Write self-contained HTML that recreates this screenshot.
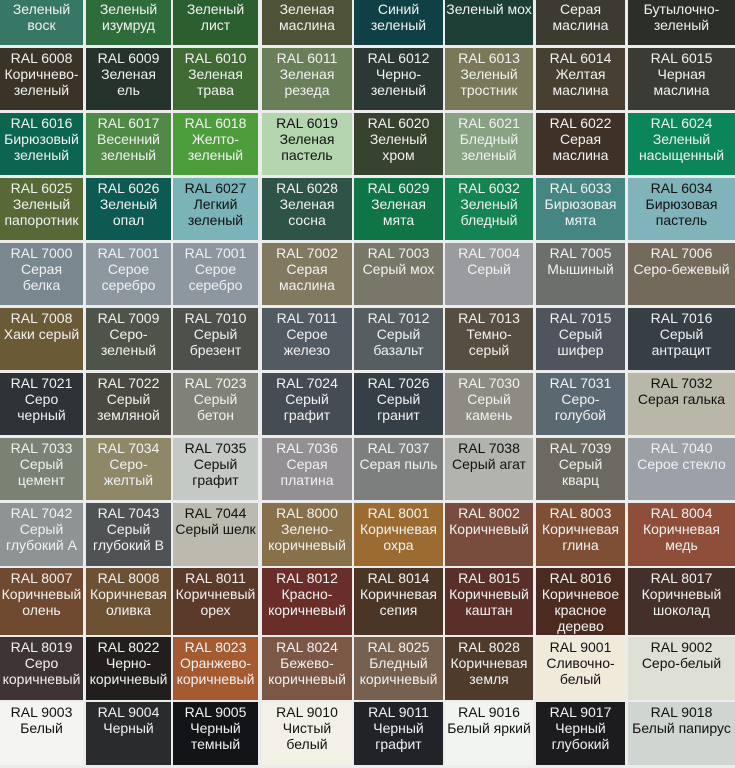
<!DOCTYPE html>
<html><head><meta charset="utf-8">
<style>
html,body{margin:0;padding:0;background:#ececec;width:735px;height:768px;overflow:hidden;position:relative}
.c{position:absolute;box-sizing:border-box;text-align:center;font-family:"Liberation Sans","DejaVu Sans",sans-serif;font-size:14px;line-height:16px;padding-top:2px;color:#f2f2f2;white-space:nowrap;overflow:hidden}
.d{color:#111}
</style></head><body>
<div id="grid"></div>
<script>
var colX=[0,86,173,262,354,445,536,628];
var colR=[83,171,258,352,443,533,625,735];
var rowY=[-17,48,113,178,243,308,373,438,503,568,637,702];
var rowH=[62,62,62,62,62,62,62,62,63,67,63,63];
var codes=[
["RAL 6005","RAL 6001","RAL 6002","RAL 6003","RAL 6004","RAL 6005","RAL 6006","RAL 6007"],
["RAL 6008","RAL 6009","RAL 6010","RAL 6011","RAL 6012","RAL 6013","RAL 6014","RAL 6015"],
["RAL 6016","RAL 6017","RAL 6018","RAL 6019","RAL 6020","RAL 6021","RAL 6022","RAL 6024"],
["RAL 6025","RAL 6026","RAL 6027","RAL 6028","RAL 6029","RAL 6032","RAL 6033","RAL 6034"],
["RAL 7000","RAL 7001","RAL 7001","RAL 7002","RAL 7003","RAL 7004","RAL 7005","RAL 7006"],
["RAL 7008","RAL 7009","RAL 7010","RAL 7011","RAL 7012","RAL 7013","RAL 7015","RAL 7016"],
["RAL 7021","RAL 7022","RAL 7023","RAL 7024","RAL 7026","RAL 7030","RAL 7031","RAL 7032"],
["RAL 7033","RAL 7034","RAL 7035","RAL 7036","RAL 7037","RAL 7038","RAL 7039","RAL 7040"],
["RAL 7042","RAL 7043","RAL 7044","RAL 8000","RAL 8001","RAL 8002","RAL 8003","RAL 8004"],
["RAL 8007","RAL 8008","RAL 8011","RAL 8012","RAL 8014","RAL 8015","RAL 8016","RAL 8017"],
["RAL 8019","RAL 8022","RAL 8023","RAL 8024","RAL 8025","RAL 8028","RAL 9001","RAL 9002"],
["RAL 9003","RAL 9004","RAL 9005","RAL 9010","RAL 9011","RAL 9016","RAL 9017","RAL 9018"]];
var names=[
["Зеленый<br>воск","Зеленый<br>изумруд","Зеленый<br>лист","Зеленая<br>маслина","Синий<br>зеленый","Зеленый мох","Серая<br>маслина","Бутылочно-<br>зеленый"],
["Коричнево-<br>зеленый","Зеленая<br>ель","Зеленая<br>трава","Зеленая<br>резеда","Черно-<br>зеленый","Зеленый<br>тростник","Желтая<br>маслина","Черная<br>маслина"],
["Бирюзовый<br>зеленый","Весенний<br>зеленый","Желто-<br>зеленый","Зеленая<br>пастель","Зеленый<br>хром","Бледный<br>зеленый","Серая<br>маслина","Зеленый<br>насыщенный"],
["Зеленый<br>папоротник","Зеленый<br>опал","Легкий<br>зеленый","Зеленая<br>сосна","Зеленая<br>мята","Зеленый<br>бледный","Бирюзовая<br>мята","Бирюзовая<br>пастель"],
["Серая<br>белка","Серое<br>серебро","Серое<br>серебро","Серая<br>маслина","Серый мох","Серый","Мышиный","Серо-бежевый"],
["Хаки серый","Серо-<br>зеленый","Серый<br>брезент","Серое<br>железо","Серый<br>базальт","Темно-<br>серый","Серый<br>шифер","Серый<br>антрацит"],
["Серо<br>черный","Серый<br>земляной","Серый<br>бетон","Серый<br>графит","Серый<br>гранит","Серый<br>камень","Серо-<br>голубой","Серая галька"],
["Серый<br>цемент","Серо-<br>желтый","Серый<br>графит","Серая<br>платина","Серая пыль","Серый агат","Серый<br>кварц","Серое стекло"],
["Серый<br>глубокий А","Серый<br>глубокий В","Серый шелк","Зелено-<br>коричневый","Коричневая<br>охра","Коричневый","Коричневая<br>глина","Коричневая<br>медь"],
["Коричневый<br>олень","Коричневая<br>оливка","Коричневый<br>орех","Красно-<br>коричневый","Коричневая<br>сепия","Коричневый<br>каштан","Коричневое<br>красное<br>дерево","Коричневый<br>шоколад"],
["Серо<br>коричневый","Черно-<br>коричневый","Оранжево-<br>коричневый","Бежево-<br>коричневый","Бледный<br>коричневый","Коричневая<br>земля","Сливочно-<br>белый","Серо-белый"],
["Белый","Черный","Черный<br>темный","Чистый<br>белый","Черный<br>графит","Белый яркий","Черный<br>глубокий","Белый папирус"]];
var colors=[
["#377765","#2e6d3b","#2c5f30","#4e5236","#0f4046","#1c3e34","#3d3a31","#2b2f27"],
["#3a3428","#25332c","#406a34","#6a7e5a","#2c3834","#79795a","#463f32","#393b34"],
["#0c654f","#508a46","#4e9d3d","#b3d6ae","#37422f","#88a283","#3d3128","#0b855a"],
["#566936","#0d5a52","#7bb4b8","#2d5447","#0f7546","#148453","#468682","#80b3ba"],
["#79878f","#8c979f","#8c979f","#817a60","#78776a","#9a9b9e","#6c6f6c","#736a5c"],
["#6b5a36","#4e5449","#4d504b","#535b62","#575e61","#564e40","#50545c","#373e44"],
["#2e3337","#4a4a43","#808278","#464c53","#344045","#8e8b82","#5a6872","#b8b7a8"],
["#7a8273","#8e8868","#c5c9c5","#929092","#7c7f7e","#b2b3ad","#6c6960","#9ca1a7"],
["#8e9394","#4f5355","#bcbaae","#87704a","#9c6b31","#794d3e","#7e4f35","#8e4e3a"],
["#6f4a30","#6d5133","#5b3a29","#6a2e2a","#4a3526","#5a2f2a","#4b2b20","#44302a"],
["#3e3436","#221e1d","#a45b32","#7b5845","#76604f","#4e3b2b","#efeada","#dedfd5"],
["#f4f5f2","#2a2b2d","#121417","#f2f0e7","#202327","#f2f4f1","#1c1c1f","#cfd5d0"]];
var dark=["#b3d6ae","#7bb4b8","#80b3ba","#b8b7a8","#c5c9c5","#b2b3ad","#bcbaae","#efeada","#dedfd5","#f4f5f2","#f2f0e7","#f2f4f1","#cfd5d0"];
var g=document.getElementById('grid');
for(var r=0;r<rowY.length;r++){for(var c=0;c<8;c++){
var el=document.createElement('div');
el.className='c'+(dark.indexOf(colors[r][c])>=0?' d':'');
el.style.left=colX[c]+'px';el.style.top=rowY[r]+'px';
el.style.width=(colR[c]-colX[c])+'px';el.style.height=rowH[r]+'px';
el.style.background=colors[r][c];
el.innerHTML=codes[r][c]+'<br>'+names[r][c];


g.appendChild(el);}}
</script>
</body></html>
